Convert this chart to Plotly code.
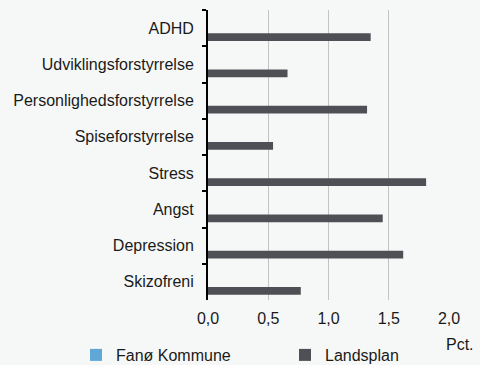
import plotly.graph_objects as go

# Diagnoser (top to bottom) and share of population in pct.
categories = [
    "ADHD",
    "Udviklingsforstyrrelse",
    "Personlighedsforstyrrelse",
    "Spiseforstyrrelse",
    "Stress",
    "Angst",
    "Depression",
    "Skizofreni",
]
fanoe_kommune = [0, 0, 0, 0, 0, 0, 0, 0]
landsplan = [1.35, 0.66, 1.32, 0.54, 1.81, 1.45, 1.62, 0.77]
x_ticks = [0.0, 0.5, 1.0, 1.5, 2.0]

FONT = "Liberation Sans, Arial, sans-serif"
FS = 16
TEXT = "#1a1a1a"
BG = "#f6f8f7"

fig = go.Figure()
fig.add_trace(go.Bar(
    name="Fanø Kommune", y=categories, x=fanoe_kommune, orientation="h",
    marker=dict(color="#5fa8d6", line=dict(width=0)), legend="legend",
))
fig.add_trace(go.Bar(
    name="Landsplan", y=categories, x=landsplan, orientation="h",
    marker=dict(color="#4f5056", line=dict(width=0)), legend="legend2",
))

legend_common = dict(
    orientation="h", xref="container", yref="container",
    xanchor="left", yanchor="middle", y=10 / 365,
    bgcolor="rgba(0,0,0,0)", font=dict(family=FONT, size=FS, color=TEXT),
    itemclick=False, itemdoubleclick=False,
)

fig.update_layout(
    width=480, height=365,
    margin=dict(l=208, r=31, t=10, b=65, autoexpand=False),
    paper_bgcolor=BG, plot_bgcolor=BG,
    font=dict(family=FONT, size=FS, color=TEXT),
    separators=",.",
    barmode="group", bargap=0.0, bargroupgap=0.57,
    showlegend=True,
    legend=dict(legend_common, x=76 / 480),
    legend2=dict(legend_common, x=285 / 480),
    annotations=[dict(
        text="Pct.", xref="paper", yref="paper", x=1.113, y=-0.155,
        xanchor="right", yanchor="middle", showarrow=False,
        font=dict(family=FONT, size=FS, color=TEXT),
    )],
)

fig.update_xaxes(
    range=[0, 2.0], tickvals=x_ticks, tickformat=".1f",
    showgrid=True, gridcolor="#c4c4c4", gridwidth=1,
    zeroline=False, showline=False, ticks="",
    tickfont=dict(size=FS, color=TEXT), ticklabelstandoff=7,
)
fig.update_yaxes(
    autorange="reversed", showgrid=False, zeroline=False,
    showline=True, linecolor="#000000", linewidth=2,
    ticks="outside", tickson="boundaries", ticklen=4, tickwidth=2,
    tickcolor="#000000", tickfont=dict(size=FS, color=TEXT),
    ticklabelstandoff=9,
)

fig.write_html("out.html")
